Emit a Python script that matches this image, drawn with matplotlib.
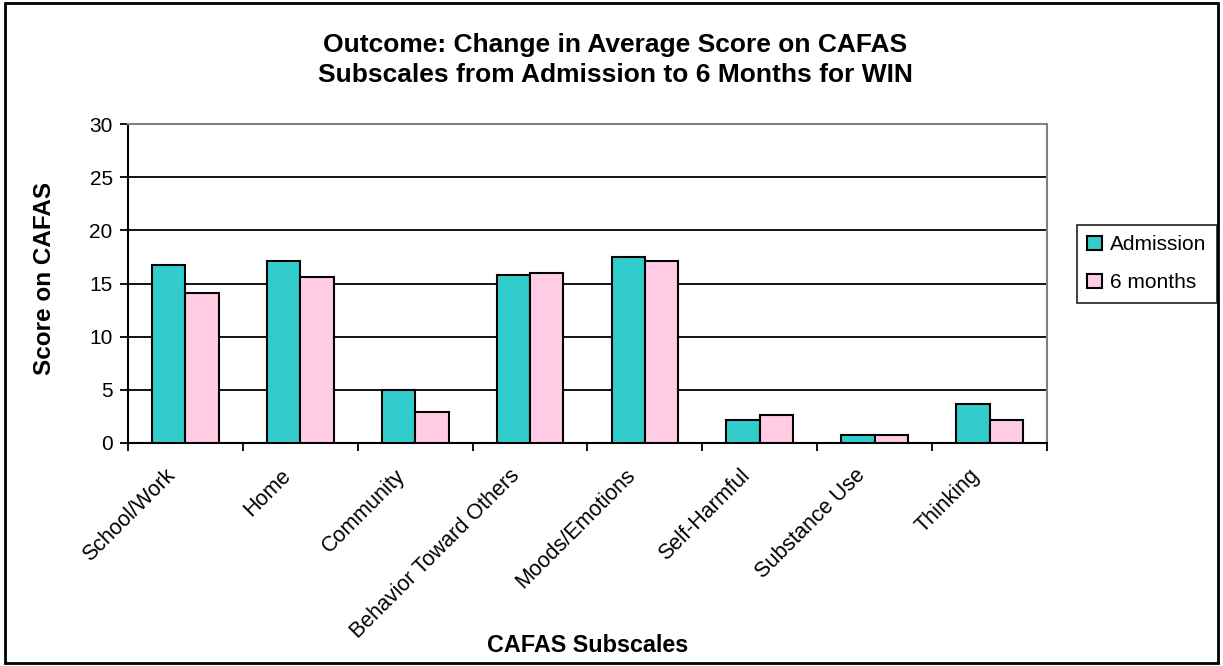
import matplotlib
matplotlib.use("Agg")
import matplotlib.pyplot as plt
import numpy as np
from matplotlib.patches import Rectangle
from matplotlib.transforms import ScaledTranslation

categories = ["School/Work", "Home", "Community", "Behavior Toward Others",
              "Moods/Emotions", "Self-Harmful", "Substance Use", "Thinking"]
admission = [16.7, 17.1, 5.0, 15.8, 17.45, 2.2, 0.75, 3.7]
six_months = [14.1, 15.6, 2.95, 16.0, 17.1, 2.6, 0.75, 2.2]
series_names = ["Admission", "6 months"]
yticks = [0, 5, 10, 15, 20, 25, 30]

plt.rcParams['font.family'] = ['Liberation Sans', 'DejaVu Sans']

W, H = 1223, 666
fig = plt.figure(figsize=(W / 100, H / 100), dpi=100)
ax = fig.add_axes([128 / W, 1 - 443 / H, 919 / W, 319 / H])

x = np.arange(len(categories))
w = 0.29
ax.bar(x - w / 2, admission, w, color='#33CCCC', edgecolor='black',
       linewidth=1.5, label=series_names[0], zorder=3)
ax.bar(x + w / 2, six_months, w, color='#FFCCE4', edgecolor='black',
       linewidth=1.5, label=series_names[1], zorder=3)

ax.set_xlim(-0.5, len(categories) - 0.5)
ax.set_ylim(0, 30)
ax.set_yticks(yticks)
ax.set_yticklabels([str(v) for v in yticks], fontsize=15)
ax.yaxis.grid(True, color='black', linewidth=1.3)
ax.set_axisbelow(True)

ax.set_xticks(np.arange(-0.5, len(categories), 1))
ax.set_xticklabels([])
ax.set_xticks(x, minor=True)
ax.set_xticklabels(categories, minor=True, rotation=45, ha='right',
                   va='center', rotation_mode='anchor', fontsize=15.5)
ax.tick_params(axis='x', which='major', length=6, width=1.3, direction='out')
ax.tick_params(axis='x', which='minor', length=0, pad=14)
ax.tick_params(axis='y', length=6, width=1.3, direction='out', pad=5)
off = ScaledTranslation(-0.13, -0.10, fig.dpi_scale_trans)
for lab in ax.get_xticklabels(minor=True):
    lab.set_transform(lab.get_transform() + off)

for s in ['left', 'bottom']:
    ax.spines[s].set_color('black')
    ax.spines[s].set_linewidth(1.5)
for s in ['top', 'right']:
    ax.spines[s].set_color('#808080')
    ax.spines[s].set_linewidth(1.5)

fig.text(615 / W, 1 - 60 / H,
         "Outcome: Change in Average Score on CAFAS\nSubscales from Admission to 6 Months for WIN",
         ha='center', va='center', fontsize=19, fontweight='bold', linespacing=1.3)
fig.text(45 / W, 1 - 278 / H, "Score on CAFAS", rotation=90, ha='center',
         va='center', fontsize=17.5, fontweight='bold')
fig.text(588 / W, 1 - 645 / H, "CAFAS Subscales", ha='center', va='center',
         fontsize=16.8, fontweight='bold')

leg = fig.legend(loc='upper left', bbox_to_anchor=(1077 / W, 1 - 225 / H),
                 fontsize=15, frameon=True, fancybox=False, handlelength=0.7,
                 handleheight=0.7, handletextpad=0.4, borderpad=0.5,
                 labelspacing=0.9, borderaxespad=0)
leg.get_frame().set_edgecolor('black')
leg.get_frame().set_linewidth(1.3)

fig.patches.append(Rectangle((5 / W, 3 / H), (1218 - 5) / W, (663 - 3) / H,
                             transform=fig.transFigure, fill=False,
                             edgecolor='black', linewidth=2))

fig.savefig("out.png", dpi=100)
